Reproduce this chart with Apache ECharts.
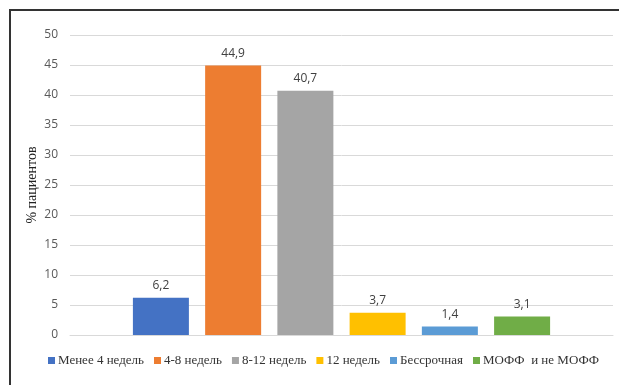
<!DOCTYPE html>
<html>
<head>
<meta charset="utf-8">
<script src="https://cdn.jsdelivr.net/npm/echarts@6/dist/echarts.min.js"></script>
<style>
  html, body { margin: 0; padding: 0; background: #fff; }
  #chart { width: 619px; height: 385px; }
</style>
</head>
<body>
<div id="chart"></div>
<script>
const seriesNames = ['Менее 4 недель', '4-8 недель', '8-12 недель', '12 недель', 'Бессрочная', 'МОФФ  и не МОФФ'];
const seriesValues = [6.2, 44.9, 40.7, 3.7, 1.4, 3.1];
const yTicks = { min: 0, max: 50, interval: 5 };
const colors = ['#4472C4', '#ED7D31', '#A5A5A5', '#FFC000', '#5B9BD5', '#70AD47'];

const chart = echarts.init(document.getElementById('chart'));

const series = seriesNames.map((name, i) => ({
  name: name,
  type: 'bar',
  data: [seriesValues[i]],
  barWidth: 56,
  barGap: '29%',
  itemStyle: { color: colors[i] },
  label: {
    show: true,
    position: 'top',
    distance: 6,
    color: '#404040',
    fontFamily: 'Open Sans',
    fontSize: 12,
    formatter: p => String(p.value).replace('.', ',')
  }
}));

chart.setOption({
  animation: false,
  grid: { left: 70, right: 6, top: 35, bottom: 50 },
  graphic: [{
    type: 'rect',
    shape: { x: 10, y: 10, width: 700, height: 500 },
    style: { fill: 'none', stroke: '#333', lineWidth: 2 },
    silent: true
  }],
  legend: {
    bottom: 13,
    left: 43,
    icon: 'rect',
    itemWidth: 7,
    itemHeight: 7,
    itemGap: 10,
    textStyle: { fontFamily: 'Liberation Serif', fontSize: 13, color: '#333', padding: [0, 0, 0, -2] },
    data: seriesNames
  },
  xAxis: {
    type: 'category',
    data: [''],
    axisLine: { lineStyle: { color: '#D9D9D9' } },
    axisTick: { show: false },
    axisLabel: { show: false }
  },
  yAxis: {
    type: 'value',
    min: yTicks.min,
    max: yTicks.max,
    interval: yTicks.interval,
    name: '% пациентов',
    nameLocation: 'middle',
    nameGap: 31,
    nameMoveOverlap: false,
    nameTextStyle: { fontFamily: 'Liberation Serif', fontSize: 14, fontWeight: 'normal', color: '#222' },
    axisLine: { show: false },
    axisTick: { show: false },
    axisLabel: { color: '#595959', fontFamily: 'Open Sans', fontSize: 12, margin: 12 },
    splitLine: { lineStyle: { color: '#D9D9D9' } }
  },
  series: series
});
</script>
</body>
</html>
